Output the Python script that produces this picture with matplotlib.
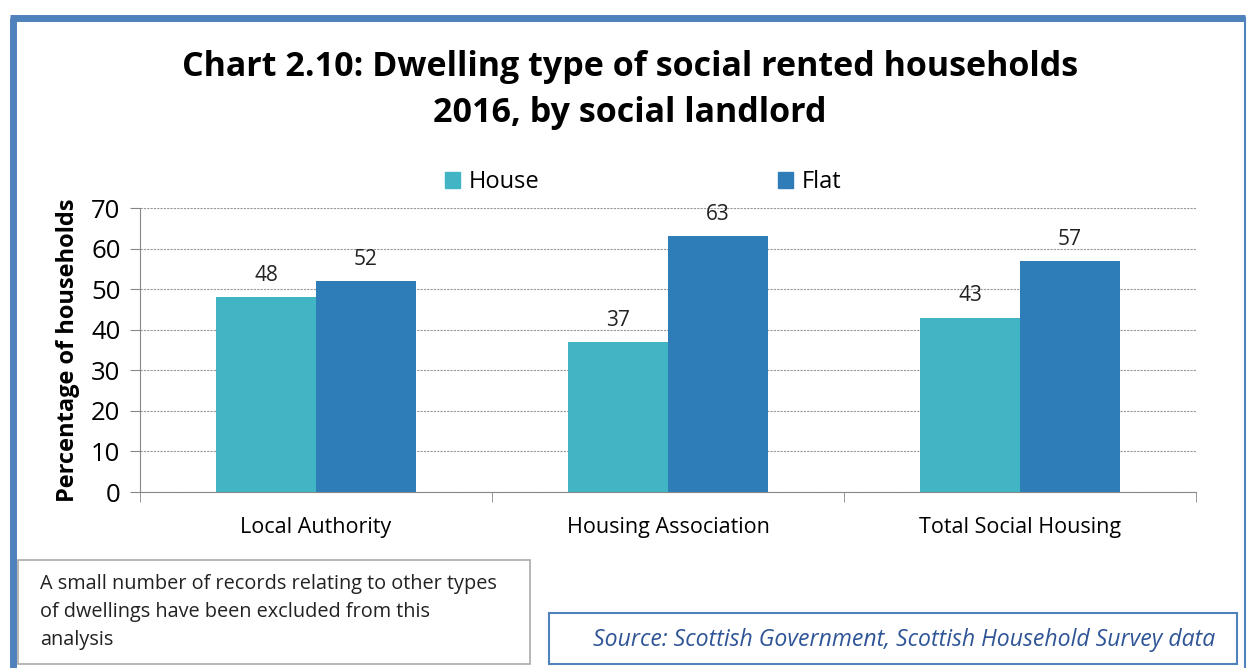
import matplotlib.pyplot as plt
import numpy as np
from matplotlib.patches import Rectangle
from matplotlib.lines import Line2D

plt.rcParams["font.family"] = ["Open Sans", "DejaVu Sans"]

landlords = ["Local Authority", "Housing Association", "Total Social Housing"]
house = [48, 37, 43]
flat = [52, 63, 57]
series_names = ["House", "Flat"]
yticks = [0, 10, 20, 30, 40, 50, 60, 70]

house_colour = "#42B5C5"
flat_colour = "#2E7DB9"
frame_colour = "#4F81BD"

fig = plt.figure(figsize=(12.47, 6.68), dpi=100)
ax = fig.add_axes([140 / 1247, 176 / 668, 1056 / 1247, 284 / 668])

x = np.arange(len(landlords))
w = 0.284
bars_h = ax.bar(x - w / 2, house, w, color=house_colour, label=series_names[0], zorder=2)
bars_f = ax.bar(x + w / 2, flat, w, color=flat_colour, label=series_names[1], zorder=2)

for bars, vals in [(bars_h, house), (bars_f, flat)]:
    for b, v in zip(bars, vals):
        ax.annotate(f"{v}", (b.get_x() + b.get_width() / 2, v), xytext=(0, 8),
                    textcoords="offset points", ha="center", va="bottom",
                    fontsize=15, color="#222222")

ax.set_xlim(-0.5, 2.5)
ax.set_ylim(0, 70)
ax.set_yticks(yticks)
ax.tick_params(axis="y", labelsize=18.5, length=7, color="#888888", pad=7)
ax.set_xticks(x)
ax.set_xticklabels(landlords, fontsize=15.5)
ax.set_xticks([-0.5, 0.5, 1.5, 2.5], minor=True)
ax.tick_params(axis="x", which="major", length=0, pad=18)
ax.tick_params(axis="x", which="minor", length=7, color="#888888")
ax.grid(axis="y", linestyle=(0, (2, 1)), color="#999999", linewidth=0.8, zorder=0)
for s in ["top", "right"]:
    ax.spines[s].set_visible(False)
for s in ["left", "bottom"]:
    ax.spines[s].set_color("#888888")
ax.set_ylabel("Percentage of households", fontsize=17, fontweight="bold", labelpad=8)

handles = [Rectangle((0, 0), 1, 1, color=house_colour), Rectangle((0, 0), 1, 1, color=flat_colour)]
fig.legend(handles, series_names, loc="center", bbox_to_anchor=(643 / 1247, 1 - 182 / 668),
           ncol=2, frameon=False, fontsize=17, handlelength=0.65, handleheight=0.65,
           handletextpad=0.35, columnspacing=10.1)

fig.text(630 / 1247, 1 - 90 / 668, "Chart 2.10: Dwelling type of social rented households\n2016, by social landlord",
         ha="center", va="center", fontsize=24.5, fontweight="bold", linespacing=1.5)

# notes along the bottom
fig.patches.append(Rectangle((18 / 1247, 4 / 668), 512 / 1247, 104 / 668, transform=fig.transFigure,
                             fill=False, edgecolor="#AAAAAA", linewidth=1.2))
fig.text(40 / 1247, 1 - 574 / 668,
         "A small number of records relating to other types\nof dwellings have been excluded from this\nanalysis",
         ha="left", va="top", fontsize=14.3, color="#222222", linespacing=1.52)
fig.patches.append(Rectangle((549 / 1247, 4 / 668), 688 / 1247, 51 / 668, transform=fig.transFigure,
                             fill=False, edgecolor=frame_colour, linewidth=1.5))
fig.text(1215 / 1247, 1 - 640 / 668, "Source: Scottish Government, Scottish Household Survey data",
         ha="right", va="center", fontsize=16.6, style="italic", color="#2F5597")

# outer frame
fig.lines.append(Line2D([12.5 / 1247, 12.5 / 1247], [0, 1 - 17.5 / 668], transform=fig.transFigure,
                        color=frame_colour, linewidth=5, solid_capstyle="butt"))
fig.lines.append(Line2D([10 / 1247, 1245 / 1247], [1 - 17.5 / 668, 1 - 17.5 / 668], transform=fig.transFigure,
                        color=frame_colour, linewidth=5, solid_capstyle="butt"))
fig.lines.append(Line2D([1245 / 1247, 1245 / 1247], [0, 1 - 17.5 / 668], transform=fig.transFigure,
                        color=frame_colour, linewidth=1.5))

fig.savefig("out.png", dpi=100)
